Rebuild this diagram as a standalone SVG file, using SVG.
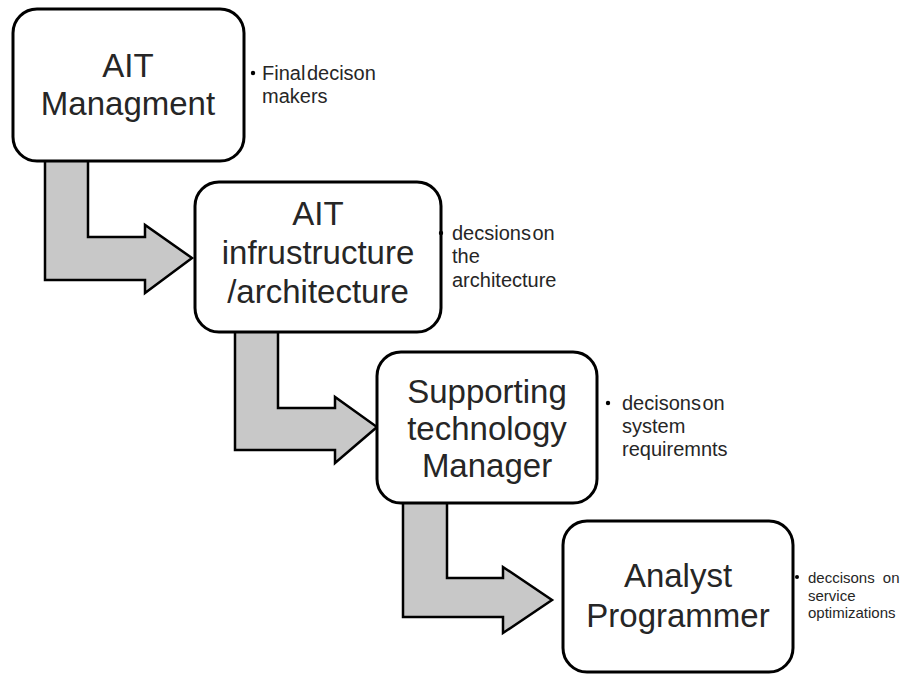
<svg xmlns="http://www.w3.org/2000/svg" width="904" height="675" viewBox="0 0 904 675">
<style>
.box{fill:#fff;stroke:#000;stroke-width:3}
.arr{fill:#c8c8c8;stroke:#000;stroke-width:2.5;stroke-linejoin:miter}
.t{font-family:"Liberation Sans",Arial,sans-serif;font-size:33px;fill:#262626;text-anchor:middle}
.s{font-family:"Liberation Sans",Arial,sans-serif;font-size:20px;fill:#262626}
.s2{font-family:"Liberation Sans",Arial,sans-serif;font-size:15px;fill:#262626}
.b{fill:#000}
</style>
<rect width="904" height="675" fill="#fff"/>
<g id="connectors">
<polygon class="arr" points="45,160 88,160 88,237 145,237 145,225 192,258 145,293 145,280 45,280"/>
<polygon class="arr" points="235,330 278,330 278,408 335,408 335,397 377,427 335,463 335,450 235,450"/>
<polygon class="arr" points="403,501 447,501 447,578 503,578 503,567 552,600 503,633 503,617 403,617"/>
</g>
<g id="node1">
<rect class="box" x="13" y="9" width="231" height="152" rx="24"/>
<text class="t" x="128" y="77">AIT</text>
<text class="t" x="128" y="115">Managment</text>
<circle class="b" cx="253" cy="73" r="2.2"/>
<text class="s" x="262" y="80" word-spacing="-4">Final decison</text>
<text class="s" x="262" y="103">makers</text>
</g>
<g id="node2">
<rect class="box" x="195" y="182" width="246" height="150" rx="24"/>
<text class="t" x="318" y="225">AIT</text>
<text class="t" x="318" y="264">infrustructure</text>
<text class="t" x="318" y="303">/architecture</text>
<circle class="b" cx="441" cy="233" r="2.2"/>
<text class="s" x="452" y="240" word-spacing="-4">decsions on</text>
<text class="s" x="452" y="263">the</text>
<text class="s" x="452" y="287">architecture</text>
</g>
<g id="node3">
<rect class="box" x="377" y="352" width="220" height="151" rx="24"/>
<text class="t" x="487" y="403">Supporting</text>
<text class="t" x="487" y="440">technology</text>
<text class="t" x="487" y="477">Manager</text>
<circle class="b" cx="608" cy="403" r="2.2"/>
<text class="s" x="622" y="410" word-spacing="-4">decisons on</text>
<text class="s" x="622" y="433">system</text>
<text class="s" x="622" y="456">requiremnts</text>
</g>
<g id="node4">
<rect class="box" x="563" y="521" width="230" height="151" rx="24"/>
<text class="t" x="678" y="587">Analyst</text>
<text class="t" x="678" y="627">Programmer</text>
<circle class="b" cx="797" cy="577" r="2"/>
<text class="s2" x="808" y="583" word-spacing="4">deccisons on</text>
<text class="s2" x="808" y="601">service</text>
<text class="s2" x="808" y="618">optimizations</text>
</g>
</svg>
